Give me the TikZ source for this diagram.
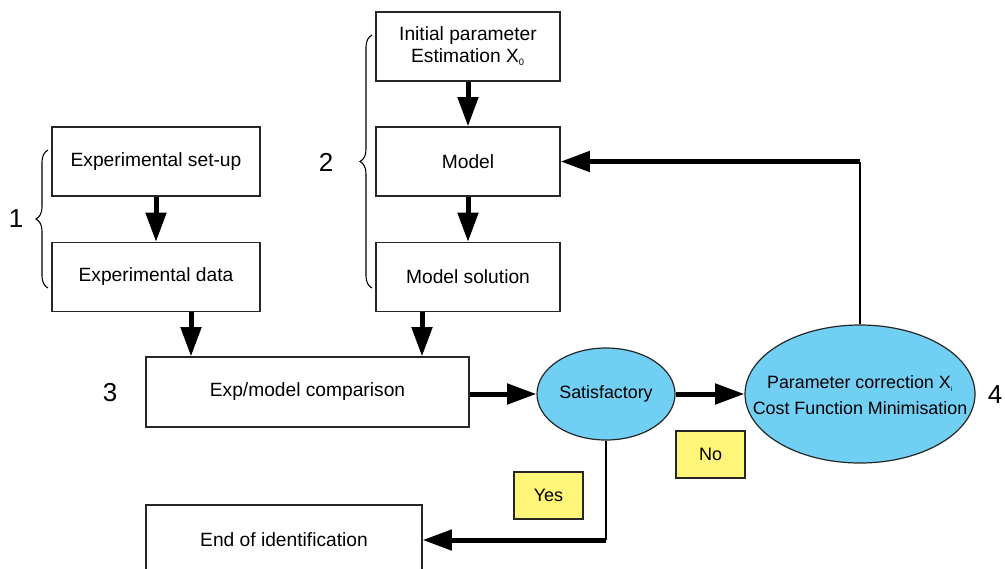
\documentclass[tikz,border=0pt]{standalone}
\usepackage{fontspec}
\setmainfont{Liberation Sans}
\usetikzlibrary{arrows.meta,shapes.geometric,decorations.pathreplacing}
\definecolor{ellblue}{RGB}{114,207,244}
\definecolor{noteyellow}{RGB}{255,245,120}
\tikzset{
  boxnode/.style={draw=black!85,line width=0.9pt,rectangle,minimum width=#1,minimum height=51.75pt,inner sep=0pt,align=center,font=\fontsize{14.4}{16.5}\selectfont},
  ellnode/.style={draw=black!85,line width=0.9pt,ellipse,fill=ellblue,inner sep=0pt},
  notenode/.style={draw=black!85,line width=0.9pt,rectangle,fill=noteyellow,minimum width=51.75pt,minimum height=35.25pt,inner sep=0pt,font=\fontsize{13.5}{16}\selectfont},
  numnode/.style={font=\fontsize{19.5}{22}\selectfont,inner sep=0pt},
  arr/.style={line width=3.75pt,-{Triangle[length=22pt,width=15pt]}},
  thinline/.style={line width=0.9pt},
  bracestyle/.style={line width=0.8pt,decorate,decoration={brace,amplitude=9pt}}
}
\begin{document}
\begin{tikzpicture}[x=0.75pt,y=-0.75pt]
\useasboundingbox (0,0) rectangle (1005,568);
% boxes
\node[boxnode=156pt] (setup) at (156,161.5) {Experimental set-up};
\node[boxnode=156pt] (data) at (156,277) {Experimental data};
\node[boxnode=138pt] (init) at (468,46.5) {Initial parameter\\Estimation X\textsubscript{\scriptsize 0}};
\node[boxnode=138pt] (model) at (468,161.5) {Model};
\node[boxnode=138pt] (sol) at (468,277) {Model solution};
\node[boxnode=242.25pt,minimum height=52.5pt] (comp) at (307.5,392) {Exp/model comparison};
\node[boxnode=207pt,minimum height=52.5pt] (end) at (284,540) {End of identification};
% ellipses
\node[ellnode,minimum width=103.5pt,minimum height=69pt,font=\fontsize{13.4}{16}\selectfont] (sat) at (606,394) {Satisfactory};
\node[ellnode,minimum width=172.5pt,minimum height=103.5pt] (param) at (860,394) {};
\node[align=center,font=\fontsize{13.4}{19.5}\selectfont] (paramtext) at (860,395) {Parameter correction X\textsubscript{\tiny i}\\Cost Function Minimisation};
% notes
\node[notenode] (no) at (710.5,454.5) {No};
\node[notenode] (yes) at (548.5,495.5) {Yes};
% numbers
\node[numnode] (n1) at (16,219) {1};
\node[numnode] (n2) at (326,162) {2};
\node[numnode] (n3) at (110,393) {3};
\node[numnode] (n4) at (995,395) {4};
% braces
\coordinate (b1a) at (48,288);
\coordinate (b1b) at (48,150);
\coordinate (b2a) at (372,288);
\coordinate (b2b) at (372,35);
\draw[bracestyle] (b1a) -- (b1b);
\draw[bracestyle] (b2a) -- (b2b);
% arrows
\draw[arr] (setup.south) -- (data.north);
\draw[arr] (init.south) -- (model.north);
\draw[arr] (model.south) -- (sol.north);
\draw[arr] ([xshift=26.25pt]data.south) coordinate (d1) -- (d1 |- comp.north);
\draw[arr] ([xshift=-34.5pt]sol.south) coordinate (s1) -- (s1 |- comp.north);
\draw[arr] (sat.west -| comp.east) -- (sat.west);
\draw[arr] (sat.east) -- (param.west);
\coordinate (fb) at (param.north |- model.east);
\draw[thinline] (param.north) -- (fb);
\draw[arr] (fb) -- (model.east);
\coordinate (yc) at (sat.south |- end.east);
\draw[thinline] (sat.south) -- (yc);
\draw[arr] (yc) -- (end.east);
\end{tikzpicture}
\end{document}
